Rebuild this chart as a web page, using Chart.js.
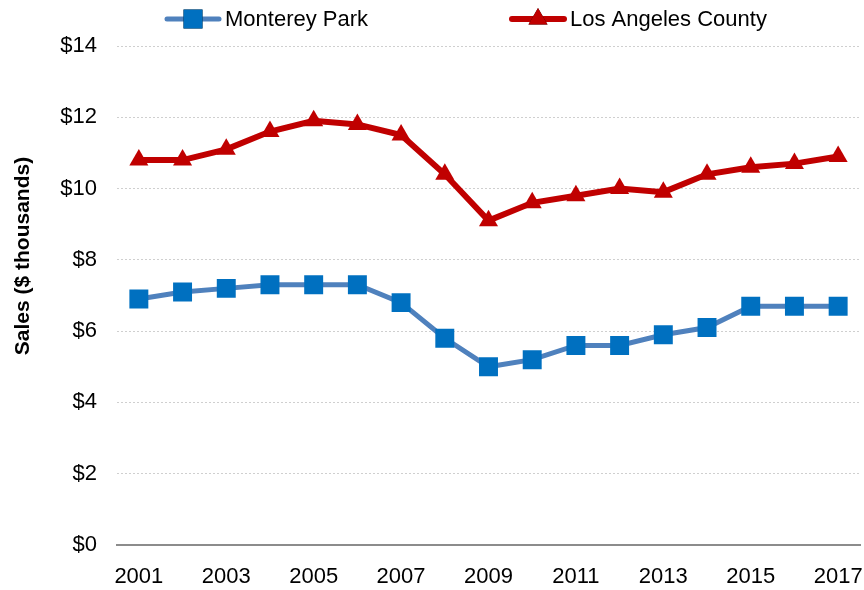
<!DOCTYPE html>
<html>
<head>
<meta charset="utf-8">
<script src="https://cdn.jsdelivr.net/npm/chart.js@4/dist/chart.umd.min.js"></script>
<style>
  html, body { margin: 0; padding: 0; background: #fff; overflow: hidden; }
  #wrap { width: 864px; height: 590px; position: relative; }
  #salesChart { display: block; }
</style>
</head>
<body>
<div id="wrap"><canvas id="salesChart"></canvas></div>
<script>
// Taxable sales per capita, 2001-2017 ($ thousands)
const years = ['2001', '2002', '2003', '2004', '2005', '2006', '2007', '2008', '2009',
               '2010', '2011', '2012', '2013', '2014', '2015', '2016', '2017'];
const montereyPark = [6.9, 7.1, 7.2, 7.3, 7.3, 7.3, 6.8, 5.8, 5.0, 5.2, 5.6, 5.6, 5.9, 6.1, 6.7, 6.7, 6.7];
const laCounty = [10.8, 10.8, 11.1, 11.6, 11.9, 11.8, 11.5, 10.4, 9.1, 9.6, 9.8, 10.0, 9.9, 10.4, 10.6, 10.7, 10.9];
const yTicks = [0, 2, 4, 6, 8, 10, 12, 14];
const yTitle = 'Sales ($ thousands)';

const SANS = '"Liberation Sans", Arial, sans-serif';

// legend drawn by hand: line sample with the marker in the middle, then the label.
// the y-axis title is drawn here too so it can sit a bit above the middle
const legendPlugin = {
  id: 'lineLegend',
  afterDraw(chart) {
    const ctx = chart.ctx;
    const items = [
      { ds: chart.data.datasets[0], x: 165 },
      { ds: chart.data.datasets[1], x: 510 }
    ];
    const y = 19;
    ctx.save();
    items.forEach(it => {
      const ds = it.ds;
      ctx.strokeStyle = ds.borderColor;
      ctx.lineWidth = ds.borderWidth;
      ctx.lineCap = 'round';
      ctx.beginPath();
      ctx.moveTo(it.x + 2, y);
      ctx.lineTo(it.x + 54, y);
      ctx.stroke();
      Chart.helpers.drawPoint(ctx, {
        pointStyle: ds.pointStyle,
        radius: ds.pointRadius,
        rotation: 0,
        borderWidth: 0
      }, it.x + 28, y);
      ctx.fillStyle = ds.pointBackgroundColor;
      ctx.fill();
      ctx.fillStyle = '#000';
      ctx.font = '22px ' + SANS;
      ctx.textBaseline = 'middle';
      ctx.textAlign = 'left';
      ctx.fillText(ds.label, it.x + 60, y + 1);
    });

    ctx.translate(23, 256);
    ctx.rotate(-Math.PI / 2);
    ctx.font = 'bold 21px ' + SANS;
    ctx.textAlign = 'center';
    ctx.textBaseline = 'middle';
    ctx.fillStyle = '#000';
    ctx.fillText(yTitle, 0, 0);
    ctx.restore();
  }
};

new Chart(document.getElementById('salesChart'), {
  type: 'line',
  data: {
    labels: years,
    datasets: [
      {
        label: 'Monterey Park',
        data: montereyPark,
        borderColor: '#4f81bd',
        borderWidth: 5,
        pointStyle: 'rect',
        pointRadius: 13.4,
        pointBackgroundColor: '#0070c0',
        pointBorderWidth: 0,
        tension: 0
      },
      {
        label: 'Los Angeles County',
        data: laCounty,
        borderColor: '#c00000',
        borderWidth: 6,
        pointStyle: 'triangle',
        pointRadius: 11,
        pointBackgroundColor: '#c00000',
        pointBorderWidth: 0,
        tension: 0
      }
    ]
  },
  options: {
    responsive: true,
    maintainAspectRatio: false,
    animation: false,
    // markers sit well inside the offset category bands, no extra room needed
    layout: { autoPadding: false, padding: { top: 46, right: 4, left: 0, bottom: 0 } },
    plugins: {
      legend: { display: false },
      tooltip: { enabled: false }
    },
    scales: {
      x: {
        offset: true,
        grid: { display: false, drawTicks: false },
        border: { display: true, color: '#8c8c8c', width: 2 },
        ticks: {
          color: '#000',
          font: { family: SANS, size: 22 },
          padding: 19,
          autoSkip: false,
          maxRotation: 0,
          callback: (v, i) => (i % 2 === 0 ? years[i] : '')
        },
        afterFit: s => {
          s.height = 45;
          s.paddingLeft = 0;
          s.paddingRight = 0;
        }
      },
      y: {
        min: 0,
        max: 14,
        afterBuildTicks: s => { s.ticks = yTicks.map(v => ({ value: v })); },
        grid: {
          drawTicks: false,
          color: c => (c.tick && c.tick.value === 0 ? 'rgba(0,0,0,0)' : '#cfcfcf'),
          lineWidth: 1
        },
        border: { display: false, dash: [2, 2] },
        ticks: {
          color: '#000',
          font: { family: SANS, size: 22 },
          padding: 20,
          callback: v => '$' + v
        },
        afterFit: s => { s.width = 117; }
      }
    }
  },
  plugins: [legendPlugin]
});
</script>
</body>
</html>
